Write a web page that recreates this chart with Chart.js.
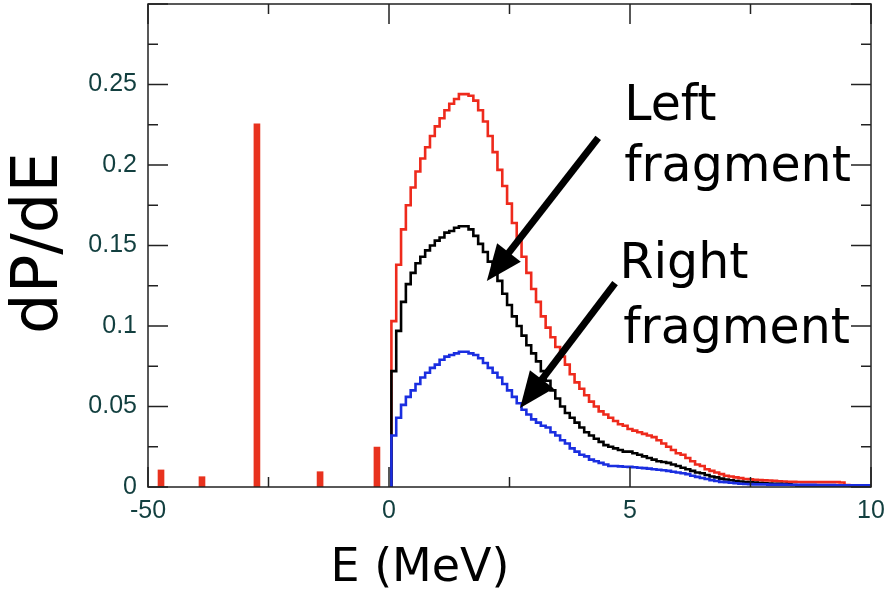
<!DOCTYPE html>
<html><head><meta charset="utf-8">
<script src="https://cdn.jsdelivr.net/npm/chart.js@4.4.1/dist/chart.umd.min.js"></script>
<style>html,body{margin:0;padding:0;background:#fff;}#wrap{width:889px;height:592px;}</style>
</head><body><div id="wrap"><canvas id="c" width="889" height="592"></canvas></div>
<script>
// ---- data (energy in MeV, dP/dE) ----
const binEdges = [0.05,0.15,0.25,0.35,0.45,0.55,0.65,0.75,0.85,0.95,
1.05,1.15,1.25,1.35,1.45,1.55,1.65,1.75,1.85,1.95,
2.05,2.15,2.25,2.35,2.45,2.55,2.65,2.75,2.85,2.95,
3.05,3.15,3.25,3.35,3.45,3.55,3.65,3.75,3.85,3.95,
4.05,4.15,4.25,4.35,4.45,4.55,4.65,4.75,4.85,4.95,
5.05,5.15,5.25,5.35,5.45,5.55,5.65,5.75,5.85,5.95,
6.05,6.15,6.25,6.35,6.45,6.55,6.65,6.75,6.85,6.95,
7.05,7.15,7.25,7.35,7.45,7.55,7.65,7.75,7.85,7.95,
8.05,8.15,8.25,8.35,8.45,8.55,8.65,8.75,8.85,8.95,
9.05,9.15,9.25,9.35,9.45,9.55,9.65,9.75,9.85,9.95];
const histEnd = 10;

const totalSpectrum = [0.103,0.138,0.160,0.175,0.186,0.196,0.204,0.211,0.218,0.224,
0.229,0.234,0.238,0.241,0.244,0.244,0.243,0.240,0.234,0.227,
0.218,0.208,0.197,0.187,0.176,0.164,0.153,0.143,0.133,0.123,
0.115,0.106,0.099,0.093,0.087,0.081,0.076,0.070,0.065,0.061,
0.057,0.053,0.050,0.047,0.045,0.043,0.041,0.039,0.038,0.036,
0.035,0.034,0.033,0.032,0.031,0.029,0.027,0.025,0.023,0.021,
0.020,0.018,0.016,0.014,0.013,0.011,0.010,0.009,0.008,0.007,
0.0065,0.006,0.0055,0.005,0.0048,0.0045,0.0043,0.0041,0.004,0.0038,
0.0036,0.0034,0.0033,0.0032,0.0031,0.003,0.003,0.003,0.003,0.003,
0.003,0.003,0.003,0.0028,0.0012,0.001,0.001,0.001,0.001,0.001];

const leftFragment = [0.072,0.097,0.115,0.126,0.133,0.139,0.143,0.147,0.150,0.153,
0.155,0.158,0.159,0.161,0.162,0.162,0.160,0.156,0.151,0.146,
0.140,0.134,0.128,0.120,0.113,0.106,0.100,0.094,0.088,0.083,
0.078,0.072,0.066,0.060,0.055,0.050,0.046,0.043,0.040,0.037,
0.034,0.032,0.030,0.028,0.026,0.025,0.024,0.023,0.022,0.022,
0.021,0.020,0.019,0.018,0.017,0.016,0.0155,0.015,0.014,0.013,
0.012,0.011,0.010,0.009,0.0085,0.0075,0.0065,0.006,0.0052,0.0047,
0.0042,0.0037,0.0034,0.0031,0.0029,0.0027,0.0025,0.0023,0.0022,0.002,
0.002,0.0018,0.0016,0.0012,0.001,0.001,0.001,0.001,0.001,0.001,
0.001,0.001,0.001,0.001,0.001,0.0009,0.0009,0.0009,0.0009,0.0009];

const rightFragment = [0.032,0.043,0.051,0.056,0.060,0.064,0.068,0.071,0.074,0.076,
0.079,0.081,0.082,0.083,0.084,0.084,0.083,0.082,0.080,0.077,
0.074,0.071,0.068,0.064,0.060,0.056,0.052,0.048,0.045,0.042,
0.040,0.038,0.037,0.034,0.032,0.029,0.027,0.024,0.022,0.020,
0.019,0.017,0.016,0.015,0.014,0.013,0.013,0.0128,0.0126,0.0125,
0.0123,0.012,0.0117,0.0114,0.011,0.0107,0.0104,0.010,0.0095,0.009,
0.0085,0.008,0.007,0.0063,0.0056,0.005,0.0043,0.0037,0.0032,0.003,
0.0026,0.0023,0.002,0.0019,0.0018,0.0016,0.0016,0.0016,0.0015,0.0015,
0.0015,0.0015,0.0014,0.0014,0.0014,0.0013,0.0013,0.0013,0.0012,0.0012,
0.0012,0.0012,0.0011,0.0011,0.0011,0.0011,0.001,0.001,0.001,0.001];

const discreteE = [-47.3, -38.8, -27.4, -14.3, -2.5];
const discreteP = [0.0106, 0.0064, 0.2255, 0.0095, 0.0248];

const xMajorLabels = {'-5':'-50','0':'0','5':'5','10':'10'};
const yMajorLabels = {'0':'0','0.05':'0.05','0.1':'0.1','0.15':'0.15','0.2':'0.2','0.25':'0.25'};

// negative energies are drawn compressed by 10 (broken scale in the original)
const toAxis = e => e < 0 ? e / 10 : e;

function histPoints(vals) {
  const pts = [{x: binEdges[0], y: 0}];
  vals.forEach((v, i) => pts.push({x: binEdges[i], y: v}));
  pts.push({x: histEnd, y: vals[vals.length - 1]});
  return pts;
}

const TEAL = '#123f3f';
const AXIS = '#222';

const decor = {
  id: 'decor',
  afterDatasetsDraw(chart) {
    const ctx = chart.ctx, a = chart.chartArea;
    const xs = chart.scales.x, ys = chart.scales.y;
    ctx.save();
    ctx.strokeStyle = AXIS;
    ctx.lineWidth = 1.5;
    ctx.strokeRect(a.left, a.top, a.right - a.left, a.bottom - a.top);
    ctx.beginPath();
    xs.ticks.forEach(t => {
      const px = xs.getPixelForValue(t.value);
      const len = xMajorLabels[String(t.value)] !== undefined ? 20 : 10;
      ctx.moveTo(px, a.bottom); ctx.lineTo(px, a.bottom - len);
      ctx.moveTo(px, a.top); ctx.lineTo(px, a.top + len);
    });
    ys.ticks.forEach(t => {
      const py = ys.getPixelForValue(t.value);
      const key = String(+t.value.toFixed(3));
      const len = yMajorLabels[key] !== undefined || Math.abs(t.value - 0.3) < 1e-6 ? 20 : 10;
      ctx.moveTo(a.left, py); ctx.lineTo(a.left + len, py);
      ctx.moveTo(a.right, py); ctx.lineTo(a.right - len, py);
    });
    ctx.stroke();
    ctx.restore();
  },
  afterDraw(chart) {
    const ctx = chart.ctx;
    const xs = chart.scales.x, ys = chart.scales.y;
    const P = (e, v) => [xs.getPixelForValue(toAxis(e)), ys.getPixelForValue(v)];
    ctx.save();
    ctx.fillStyle = '#000';
    // axis titles
    ctx.font = '64px "DejaVu Sans"';
    ctx.textAlign = 'center'; ctx.textBaseline = 'middle';
    ctx.save(); ctx.translate(40, 243); ctx.rotate(-Math.PI / 2); ctx.fillText('dP/dE', 0, 0); ctx.restore();
    ctx.font = '46px "DejaVu Sans"';
    ctx.textBaseline = 'alphabetic';
    ctx.fillText('E (MeV)', 420, 581);
    // annotation text
    ctx.font = '49px "DejaVu Sans"';
    ctx.textAlign = 'left';
    let p = P(4.88, 0.228); ctx.fillText('Left', p[0], p[1]);
    p = P(4.88, 0.190); ctx.fillText('fragment', p[0], p[1]);
    p = P(4.78, 0.130); ctx.fillText('Right', p[0], p[1]);
    p = P(4.86, 0.0895); ctx.fillText('fragment', p[0], p[1]);
    // arrows
    const arrow = (tail, tip) => {
      const dx = tip[0] - tail[0], dy = tip[1] - tail[1];
      const L = Math.hypot(dx, dy), ux = dx / L, uy = dy / L;
      const hl = 36, hw = 15;
      const bx = tip[0] - ux * hl, by = tip[1] - uy * hl;
      ctx.strokeStyle = '#000'; ctx.lineWidth = 7; ctx.lineCap = 'butt';
      ctx.beginPath(); ctx.moveTo(tail[0], tail[1]); ctx.lineTo(bx + ux * 4, by + uy * 4); ctx.stroke();
      ctx.beginPath();
      ctx.moveTo(tip[0], tip[1]);
      ctx.lineTo(bx - uy * hw, by + ux * hw);
      ctx.lineTo(bx + uy * hw, by - ux * hw);
      ctx.closePath(); ctx.fill();
    };
    arrow(P(4.34, 0.2168), P(2.03, 0.128));
    arrow(P(4.69, 0.1267), P(2.72, 0.049));
    ctx.restore();
  }
};

new Chart(document.getElementById('c'), {
  type: 'line',
  data: {
    datasets: [
      {label: 'Right fragment', data: histPoints(rightFragment), borderColor: '#1a2ee0', borderWidth: 2.6, stepped: 'before', pointRadius: 0, fill: false, order: 0},
      {label: 'Left fragment', data: histPoints(leftFragment), borderColor: '#000000', borderWidth: 2.6, stepped: 'before', pointRadius: 0, fill: false, order: 1},
      {label: 'Total', data: histPoints(totalSpectrum), borderColor: '#ee2a1c', borderWidth: 2.6, stepped: 'before', pointRadius: 0, fill: false, order: 2},
      {type: 'bar', label: 'Bound', data: discreteE.map((e, i) => ({x: toAxis(e), y: discreteP[i]})), backgroundColor: '#e8321e', borderWidth: 0, barThickness: 6, order: 3}
    ]
  },
  options: {
    responsive: false, animation: false, devicePixelRatio: 1,
    layout: {padding: {top: 4, right: 18, left: 0, bottom: 0}},
    plugins: {legend: {display: false}, tooltip: {enabled: false}},
    scales: {
      x: {
        type: 'linear', min: -5, max: 10, offset: false,
        grid: {display: false, drawTicks: false, offset: false},
        border: {display: false},
        afterFit: s => { s.height = 105; s.paddingLeft = 0; s.paddingRight = 0; },
        ticks: {
          stepSize: 2.5, autoSkip: false, maxRotation: 0, padding: 9,
          color: TEAL, font: {family: '"Liberation Sans", Arial', size: 25},
          callback: v => xMajorLabels[String(v)] || ''
        }
      },
      y: {
        type: 'linear', min: 0, max: 0.3,
        grid: {display: false, drawTicks: false},
        border: {display: false},
        afterFit: s => { s.width = 148; s.paddingTop = 0; s.paddingBottom = 0; },
        ticks: {
          stepSize: 0.025, autoSkip: false, padding: 11,
          color: TEAL, font: {family: '"Liberation Sans", Arial', size: 25},
          callback: v => yMajorLabels[String(+v.toFixed(3))] || ''
        }
      }
    }
  },
  plugins: [decor]
});
</script></body></html>
